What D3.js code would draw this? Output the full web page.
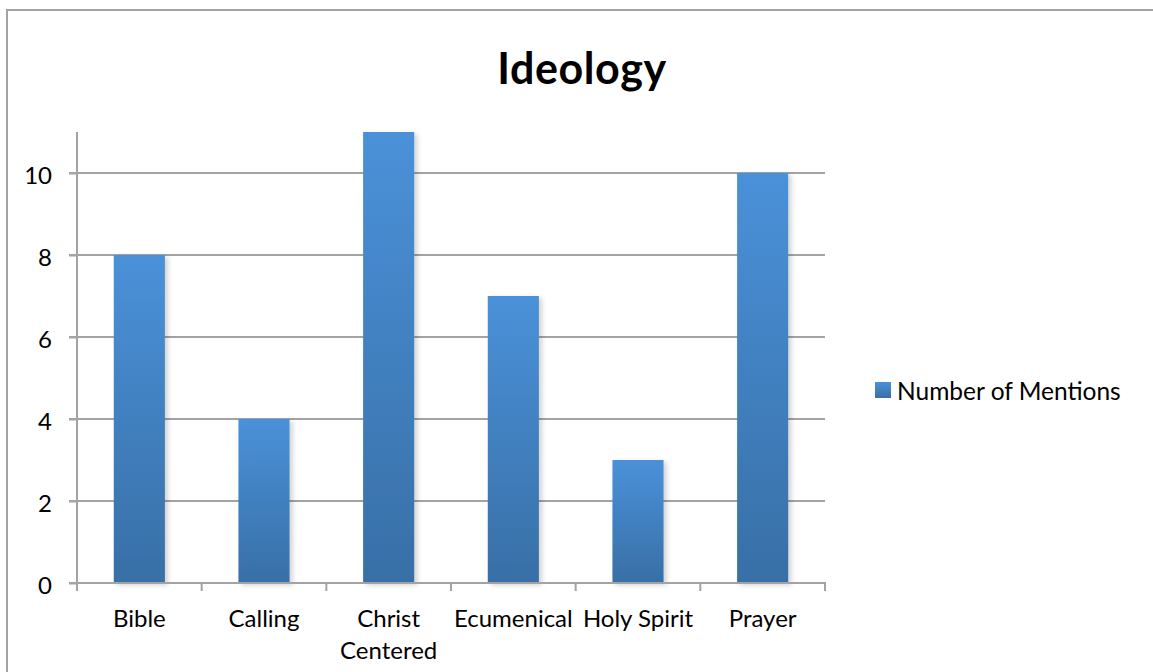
<!DOCTYPE html>
<html><head><meta charset="utf-8">
<script src="https://cdn.jsdelivr.net/npm/d3@7"></script>
<style>html,body{margin:0;padding:0;background:#fff;}svg{display:block;}</style>
</head><body>
<svg id="chart" width="1153" height="672"></svg>
<script>
const categories = ["Bible", "Calling", "Christ Centered", "Ecumenical", "Holy Spirit", "Prayer"];
const categoryLines = [["Bible"], ["Calling"], ["Christ", "Centered"], ["Ecumenical"], ["Holy Spirit"], ["Prayer"]];
const mentions = [8, 4, 11, 7, 3, 10];
const yTicks = [0, 2, 4, 6, 8, 10];
const seriesName = "Number of Mentions";
const title = "Ideology";

(function () {
const svg = d3.select("#chart");
const font = "Lato, 'Open Sans', sans-serif";
const grey = "#a3a3a3";

const defs = svg.append("defs");
const grad = defs.append("linearGradient").attr("id", "barGrad").attr("x1", 0).attr("y1", 0).attr("x2", 0).attr("y2", 1);
grad.append("stop").attr("offset", "0%").attr("stop-color", "#4a91d9");
grad.append("stop").attr("offset", "100%").attr("stop-color", "#386fa6");
const f = defs.append("filter").attr("id", "shadow").attr("x", "-20%").attr("y", "-5%").attr("width", "150%").attr("height", "115%");
f.append("feDropShadow").attr("dx", 3).attr("dy", 2).attr("stdDeviation", 2.5).attr("flood-color", "#000").attr("flood-opacity", 0.18);

// outer border
svg.append("rect").attr("x", 7).attr("y", 10).attr("width", 1160).attr("height", 680)
  .attr("fill", "none").attr("stroke", grey).attr("stroke-width", 2);

const pLeft = 77, pRight = 825, pTop = 132, pBottom = 583;
const x = d3.scaleBand().domain(categories).range([pLeft, pRight]).paddingInner(0.59).paddingOuter(0.295);
const y = d3.scaleLinear().domain([0, 11]).range([pBottom, pTop]);

// gridlines
svg.append("g").selectAll("line").data(yTicks.filter(d => d > 0)).join("line")
  .attr("x1", pLeft - 8).attr("x2", pRight).attr("y1", d => y(d)).attr("y2", d => y(d))
  .attr("stroke", grey).attr("stroke-width", 2);

// bars
svg.append("g").selectAll("rect").data(mentions).join("rect")
  .attr("x", (d, i) => x(categories[i])).attr("width", x.bandwidth())
  .attr("y", d => y(d)).attr("height", d => y(0) - y(d))
  .attr("fill", "url(#barGrad)").attr("filter", "url(#shadow)");

// y axis
const yAxis = svg.append("g").attr("transform", `translate(${pLeft},0)`)
  .call(d3.axisLeft(y).tickValues(yTicks).tickSize(8).tickPadding(17));
yAxis.select(".domain").attr("d", `M0,${pTop}V${pBottom}`).attr("stroke", grey).attr("stroke-width", 2);
yAxis.selectAll(".tick line").attr("stroke", grey).attr("stroke-width", 2);
yAxis.selectAll(".tick text").attr("font-family", font).attr("font-size", 24).attr("fill", "#000").attr("dy", "0.45em");

// x axis
const step = (pRight - pLeft) / categories.length;
const xBoundary = d3.range(categories.length + 1).map(i => pLeft + i * step);
svg.append("line").attr("x1", pLeft - 8).attr("x2", pRight + 1).attr("y1", pBottom).attr("y2", pBottom)
  .attr("stroke", grey).attr("stroke-width", 2);
svg.append("g").selectAll("line").data(xBoundary).join("line")
  .attr("x1", d => d).attr("x2", d => d).attr("y1", pBottom).attr("y2", pBottom + 8)
  .attr("stroke", grey).attr("stroke-width", 2);
const xl = svg.append("g").selectAll("text").data(categoryLines).join("text")
  .attr("font-family", font).attr("font-size", 24).attr("text-anchor", "middle").attr("fill", "#000")
  .attr("x", (d, i) => x(categories[i]) + x.bandwidth() / 2).attr("y", 627);
xl.each(function (lines) {
  const t = d3.select(this);
  const cx = t.attr("x");
  t.selectAll("tspan").data(lines).join("tspan")
    .attr("x", cx).attr("dy", (d, i) => i === 0 ? 0 : 32).text(d => d);
});

// title
svg.append("text").attr("x", 582).attr("y", 84).attr("text-anchor", "middle")
  .attr("font-family", font).attr("font-weight", "bold").attr("font-size", 43).attr("letter-spacing", 0.6)
  .attr("fill", "#000").text(title);

// legend
svg.append("rect").attr("x", 875).attr("y", 382).attr("width", 16).attr("height", 16).attr("fill", "url(#barGrad)");
svg.append("text").attr("x", 897).attr("y", 399.5).attr("font-family", font).attr("font-size", 24.5).attr("fill", "#000").text(seriesName);
})();
</script>
</body></html>
